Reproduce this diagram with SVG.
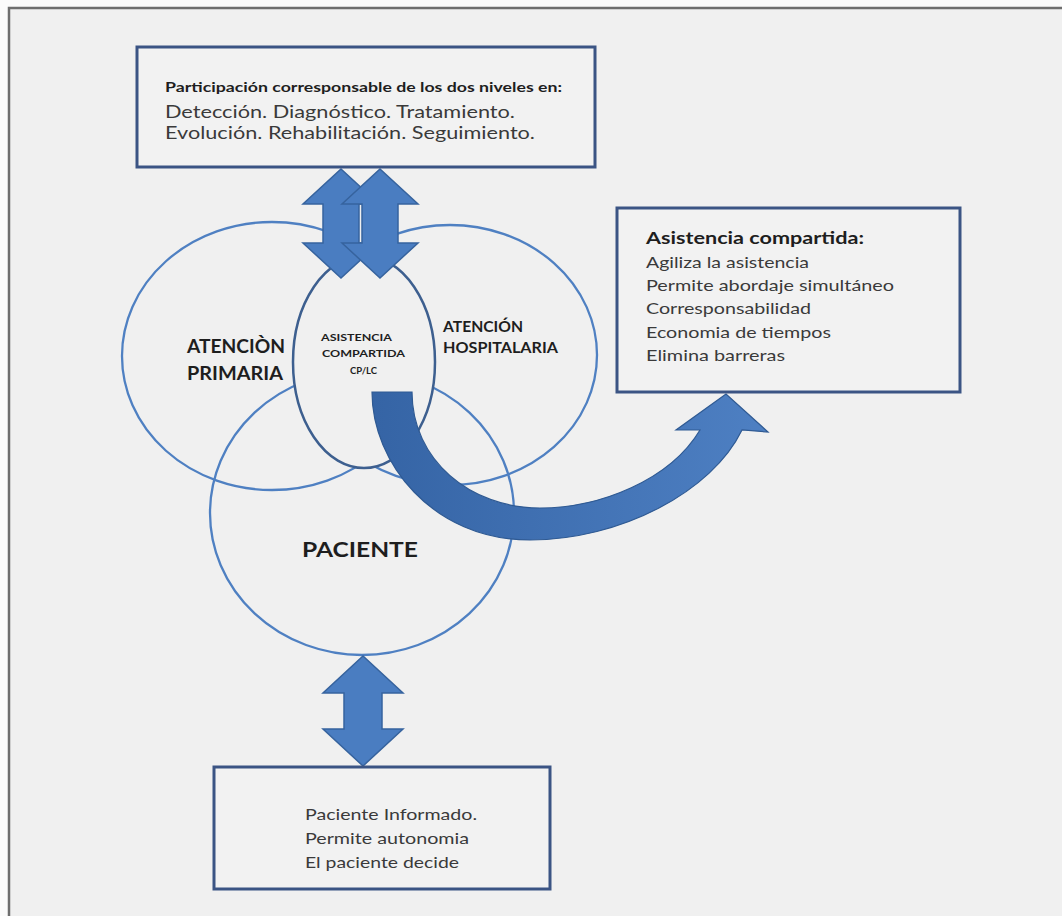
<svg xmlns="http://www.w3.org/2000/svg" width="1062" height="916" viewBox="0 0 1062 916">
<defs>
<style>
.page{fill:#f0f0f0}
.frame{fill:none;stroke:#6e6e6e;stroke-width:2.5}
.box{fill:#f2f2f2;stroke:#3b5484;stroke-width:3}
.ell{fill:none;stroke:#4f80c2;stroke-width:2.3}
.ctr{fill:#f0f0f0;stroke:#3d5f8f;stroke-width:2.5}
.arr{fill:#4a7dc1;stroke:#36639e;stroke-width:1.5;stroke-linejoin:miter}
.carr{fill:url(#cg);stroke:#2f5a93;stroke-width:1.2}
text{font-family:Lato,"Liberation Sans",sans-serif;fill:#3a3a3a}
.b{font-weight:bold;fill:#1e1e1e}
</style>
<linearGradient id="cg" x1="372" y1="0" x2="770" y2="0" gradientUnits="userSpaceOnUse">
<stop offset="0" stop-color="#3564a5"/>
<stop offset="1" stop-color="#4e80c3"/>
</linearGradient>
</defs>
<rect width="1062" height="916" fill="#fbfbfb"/>
<rect x="9" y="8" width="1053" height="908" class="page"/>
<path d="M9,916 V8 H1062" class="frame"/>

<g id="ellipse-primaria">
<ellipse cx="272" cy="356" rx="150" ry="134" class="ell"/>
<text x="187" y="353" class="b" font-size="18" textLength="98" lengthAdjust="spacingAndGlyphs">ATENCIÒN</text>
<text x="187" y="380" class="b" font-size="18" textLength="96" lengthAdjust="spacingAndGlyphs">PRIMARIA</text>
</g>
<g id="ellipse-hospitalaria">
<ellipse cx="450" cy="355" rx="147" ry="130" class="ell"/>
<text x="443" y="332" class="b" font-size="15" textLength="80" lengthAdjust="spacingAndGlyphs">ATENCIÓN</text>
<text x="443" y="353" class="b" font-size="15" textLength="115" lengthAdjust="spacingAndGlyphs">HOSPITALARIA</text>
</g>
<g id="ellipse-paciente">
<ellipse cx="362" cy="513" rx="152" ry="142" class="ell"/>
<text x="302" y="557" class="b" font-size="21" textLength="116" lengthAdjust="spacingAndGlyphs">PACIENTE</text>
</g>
<g id="ellipse-compartida">
<ellipse cx="364" cy="362" rx="71" ry="106" class="ctr"/>
<text x="321" y="341" class="b" font-size="10" textLength="71" lengthAdjust="spacingAndGlyphs">ASISTENCIA</text>
<text x="322" y="357" class="b" font-size="10" textLength="83" lengthAdjust="spacingAndGlyphs">COMPARTIDA</text>
<text x="350" y="374" class="b" font-size="10" textLength="27" lengthAdjust="spacingAndGlyphs">CP/LC</text>
</g>

<g id="connectors">
<path class="arr" d="M341,169 L379,204 L359,204 L359,243 L379,243 L341,278 L303,243 L323,243 L323,204 L303,204 Z"/>
<path class="arr" d="M380,169 L418,204 L398,204 L398,243 L418,243 L380,278 L342,243 L362,243 L362,204 L342,204 Z"/>
<path class="arr" d="M363,656 L403,693 L382,693 L382,729 L403,729 L363,766 L323,729 L344,729 L344,693 L323,693 Z"/>
<path class="carr" d="M372,392 C372,462 432,540 530,540 C620,540 712,492 742,430 L768,432 L726,394 L676,430 L700,430 C670,480 600,508 540,508 C470,508 412,460 412,392 Z"/>
</g>

<g id="top-box">
<rect x="137" y="47" width="458" height="120" class="box"/>
<text x="165" y="92" class="b" font-size="13.5" textLength="397" lengthAdjust="spacingAndGlyphs">Participación corresponsable de los dos niveles en:</text>
<text x="165" y="118" font-size="18" textLength="350" lengthAdjust="spacingAndGlyphs">Detección. Diagnóstico. Tratamiento.</text>
<text x="165" y="139" font-size="18" textLength="370" lengthAdjust="spacingAndGlyphs">Evolución. Rehabilitación. Seguimiento.</text>
</g>

<g id="right-box">
<rect x="617" y="208" width="343" height="184" class="box"/>
<text x="646" y="244" class="b" font-size="17" textLength="218" lengthAdjust="spacingAndGlyphs">Asistencia compartida:</text>
<text x="646" y="268" font-size="15" textLength="163" lengthAdjust="spacingAndGlyphs">Agiliza la asistencia</text>
<text x="646" y="291" font-size="15" textLength="248" lengthAdjust="spacingAndGlyphs">Permite abordaje simultáneo</text>
<text x="646" y="314" font-size="15" textLength="165" lengthAdjust="spacingAndGlyphs">Corresponsabilidad</text>
<text x="646" y="338" font-size="15" textLength="185" lengthAdjust="spacingAndGlyphs">Economia de tiempos</text>
<text x="646" y="361" font-size="15" textLength="139" lengthAdjust="spacingAndGlyphs">Elimina barreras</text>
</g>

<g id="bottom-box">
<rect x="214" y="767" width="336" height="122" class="box"/>
<text x="305" y="820" font-size="16" textLength="172" lengthAdjust="spacingAndGlyphs">Paciente Informado.</text>
<text x="305" y="844" font-size="16" textLength="164" lengthAdjust="spacingAndGlyphs">Permite autonomia</text>
<text x="305" y="868" font-size="16" textLength="154" lengthAdjust="spacingAndGlyphs">El paciente decide</text>
</g>
</svg>
